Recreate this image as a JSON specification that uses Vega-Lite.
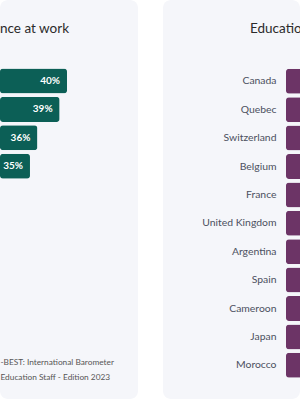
{
  "$schema": "https://vega.github.io/schema/vega-lite/v6.json",
  "background": "#ffffff",
  "padding": 0,
  "spacing": 25,
  "config": {
    "view": {"fill": "#f5f6fa", "stroke": null, "cornerRadius": 8},
    "font": "Lato"
  },
  "hconcat": [
    {
      "width": 138,
      "height": 399,
      "data": {"values": [
        {"item": "1", "share": 0.40},
        {"item": "2", "share": 0.39},
        {"item": "3", "share": 0.36},
        {"item": "4", "share": 0.35}
      ]},
      "title": {"text": "nce at work", "anchor": "start", "frame": "group", "offset": -31, "dy": 15, "baseline": "alphabetic", "fontSize": 13.5, "fontWeight": "normal", "color": "#2b2b2b"},
      "encoding": {
        "y": {"field": "item", "type": "nominal", "sort": null,
              "scale": {"range": [66.8, 180.4], "paddingInner": 0.12, "paddingOuter": 0.06},
              "axis": null},
        "x": {"field": "share", "type": "quantitative",
              "scale": {"domain": [0.3095, 0.4959], "nice": false, "zero": false, "clamp": true},
              "axis": {"labels": false, "ticks": false, "domain": false, "grid": false,
                       "title": ["-BEST: International Barometer", "Education Staff - Edition 2023"],
                       "titleX": 0, "titleY": -35, "titleAlign": "left", "titleAnchor": "start", "titleBaseline": "alphabetic",
                       "titleFontSize": 8.3, "titleFontWeight": "normal", "titleColor": "#555555", "titleLineHeight": 15}}
      },
      "layer": [
        {"mark": {"type": "bar", "color": "#0c5f56", "cornerRadius": 3}},
        {"mark": {"type": "text", "align": "right", "dx": -7, "color": "#ffffff", "fontWeight": "bold", "fontSize": 10},
         "encoding": {"text": {"field": "share", "type": "quantitative", "format": ".0%"}}}
      ]
    },
    {
      "width": 137,
      "height": 399,
      "data": {"values": [
        {"country": "Canada", "value": 62},
        {"country": "Quebec", "value": 60},
        {"country": "Switzerland", "value": 57},
        {"country": "Belgium", "value": 55},
        {"country": "France", "value": 53},
        {"country": "United Kingdom", "value": 51},
        {"country": "Argentina", "value": 49},
        {"country": "Spain", "value": 47},
        {"country": "Cameroon", "value": 44},
        {"country": "Japan", "value": 41},
        {"country": "Morocco", "value": 38}
      ]},
      "title": {"text": "Educatio", "anchor": "start", "frame": "group", "offset": -31, "dy": 15, "dx": 87, "baseline": "alphabetic", "fontSize": 13.5, "fontWeight": "normal", "color": "#2b2b2b"},
      "mark": {"type": "bar", "color": "#6c3466", "cornerRadiusTopLeft": 3, "cornerRadiusBottomLeft": 3},
      "encoding": {
        "y": {"field": "country", "type": "nominal", "sort": null,
              "scale": {"range": [67.1, 379.5], "paddingInner": 0.12, "paddingOuter": 0.06},
              "axis": {"orient": "left", "offset": -123, "labelPadding": 10, "ticks": false, "domain": false, "title": null,
                       "labelFontSize": 10.4, "labelColor": "#4b5060", "labelAlign": "right"}},
        "x": {"field": "value", "type": "quantitative",
              "scale": {"domain": [0, 35], "range": [123, 137], "nice": false, "zero": false, "clamp": true},
              "axis": null}
      }
    }
  ]
}
